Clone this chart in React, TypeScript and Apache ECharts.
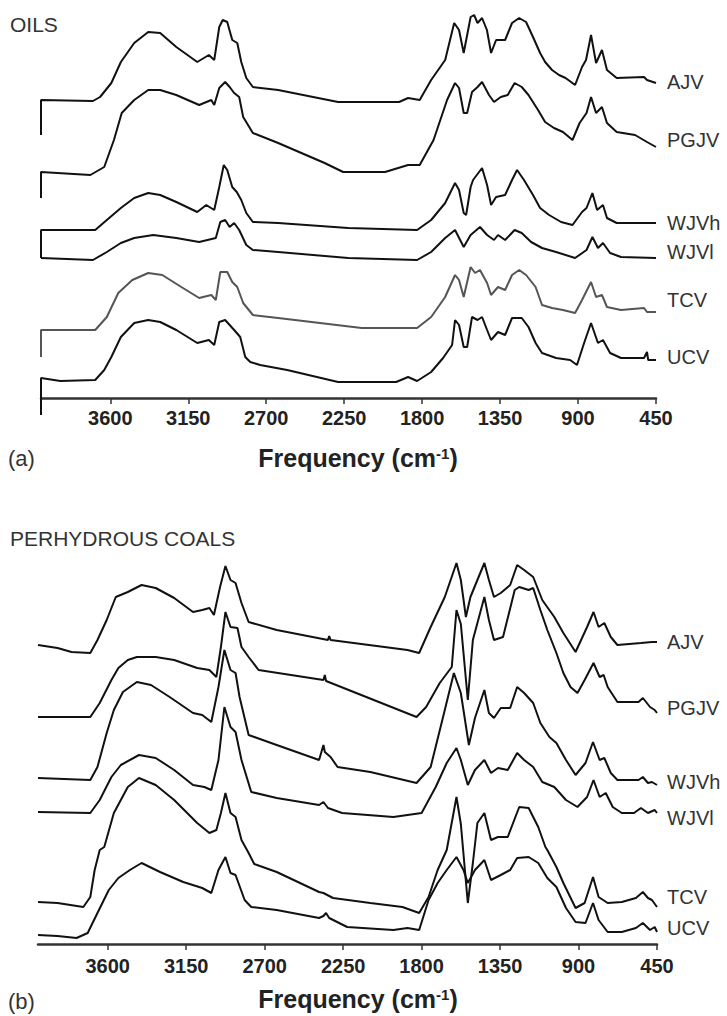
import React, { useEffect, useRef } from "react";
import * as echarts from "echarts";

// Wavenumber ticks (cm-1)
const TICKS = [3600, 3150, 2700, 2250, 1800, 1350, 900, 450];
const NAMES = ["AJV", "PGJV", "WJVh", "WJVl", "TCV", "UCV"];

// ---- (a) OILS : [wavenumber, stacked intensity (a.u.)]
const oilsAJV = [[4000,263],[4000,298],[3700,297],[3659,301],[3594,315],[3539,336],[3462,355],[3381,366],[3312,365],[3219,351],[3098,336],[3031,343],[3000,338],[2971,371],[2951,378],[2925,376],[2896,358],[2867,355],[2844,336],[2815,320],[2777,311],[2631,308],[2285,296],[1933,296],[1881,300],[1814,298],[1748,318],[1667,338],[1615,375],[1587,368],[1560,345],[1520,381],[1500,383],[1480,375],[1454,380],[1426,368],[1402,345],[1373,358],[1321,358],[1281,375],[1240,380],[1200,376],[1160,361],[1119,345],[1090,336],[1050,328],[1010,323],[972,320],[917,313],[877,331],[854,338],[825,363],[796,335],[762,348],[733,328],[677,320],[519,321],[502,318],[450,315]];
const oilsPGJV = [[4000,200],[4000,226],[3715,223],[3635,231],[3579,258],[3534,285],[3462,298],[3381,308],[3312,308],[3219,303],[3087,293],[3017,298],[3000,293],[2971,310],[2937,316],[2911,311],[2885,305],[2856,301],[2833,281],[2777,265],[2631,255],[2363,235],[2256,226],[2014,226],[1881,233],[1814,233],[1734,258],[1656,298],[1610,315],[1587,310],[1560,285],[1540,285],[1512,306],[1480,311],[1454,316],[1414,303],[1385,296],[1346,301],[1306,303],[1266,315],[1225,311],[1186,303],[1131,288],[1090,276],[1039,270],[987,266],[932,258],[891,275],[851,285],[825,301],[796,285],[762,291],[733,275],[677,266],[571,263],[502,256],[450,251]];
const oilsWJVh = [[4000,140],[4000,168],[3687,168],[3620,178],[3539,190],[3462,200],[3381,205],[3312,203],[3219,196],[3098,186],[3046,193],[3000,188],[2971,211],[2945,233],[2925,228],[2896,211],[2870,206],[2844,198],[2815,185],[2777,176],[2631,175],[2227,170],[1829,168],[1748,178],[1667,195],[1610,215],[1587,208],[1560,185],[1546,183],[1520,211],[1506,218],[1454,230],[1425,213],[1402,193],[1373,201],[1321,203],[1281,218],[1252,228],[1212,218],[1160,203],[1119,190],[1067,183],[998,176],[932,173],[877,186],[851,190],[817,205],[790,188],[756,193],[733,180],[677,175],[450,175]];
const oilsWJVl = [[4000,140],[3700,138],[3620,146],[3539,155],[3462,160],[3352,163],[3219,160],[3087,156],[2991,160],[2965,176],[2937,178],[2911,171],[2885,175],[2856,168],[2815,153],[2777,148],[2631,146],[2227,140],[1829,138],[1748,146],[1667,160],[1610,168],[1560,151],[1520,163],[1466,171],[1425,163],[1385,158],[1362,163],[1321,158],[1266,168],[1225,165],[1171,156],[1108,150],[1027,146],[917,140],[851,148],[817,161],[785,150],[756,155],[715,145],[652,141],[450,140]];
const oilsTCV = [[4000,41],[4000,68],[3687,68],[3620,81],[3554,105],[3473,118],[3381,125],[3300,123],[3190,111],[3087,100],[3017,103],[2991,98],[2965,126],[2925,126],[2896,116],[2867,111],[2833,95],[2777,83],[2631,80],[2149,70],[1829,70],[1748,81],[1667,101],[1610,123],[1587,118],[1560,101],[1520,131],[1494,125],[1466,128],[1425,115],[1402,103],[1362,111],[1321,108],[1281,123],[1240,128],[1200,123],[1145,111],[1108,93],[1050,90],[987,88],[917,85],[877,98],[825,116],[796,101],[762,103],[733,91],[652,88],[519,90],[502,86],[450,86]];
const oilsUCV = [[4000,-17],[4000,20],[3888,17],[3687,18],[3635,28],[3594,41],[3539,61],[3462,75],[3381,78],[3312,76],[3219,68],[3098,55],[3031,58],[3000,53],[2971,76],[2937,78],[2911,73],[2885,68],[2850,61],[2821,41],[2792,36],[2735,33],[2579,28],[2285,16],[1950,16],[1881,21],[1829,17],[1748,26],[1679,40],[1627,53],[1610,78],[1587,73],[1560,51],[1540,51],[1512,81],[1480,78],[1454,81],[1425,68],[1402,58],[1362,66],[1321,63],[1281,80],[1225,80],[1186,71],[1145,55],[1108,45],[1027,40],[946,38],[906,33],[865,55],[825,75],[785,55],[756,58],[715,45],[652,40],[519,40],[502,46],[495,38],[450,38]];

// ---- (b) PERHYDROUS COALS
const coalsAJV = [[4000,299],[3888,296],[3808,292],[3700,291],[3659,304],[3606,324],[3554,347],[3485,352],[3406,359],[3325,356],[3219,346],[3111,332],[3058,334],[3017,336],[2991,329],[2956,357],[2925,378],[2896,364],[2867,361],[2833,341],[2792,322],[2631,314],[2337,304],[2330,308],[2322,304],[1881,294],[1814,291],[1748,317],[1667,347],[1600,381],[1575,364],[1546,327],[1520,347],[1480,364],[1440,381],[1414,364],[1385,347],[1346,351],[1292,359],[1252,379],[1212,374],[1160,367],[1108,344],[1039,327],[987,311],[917,292],[851,317],[814,332],[785,317],[752,321],[715,307],[677,299],[542,301],[479,302],[450,302]];
const coalsPGJV = [[4000,227],[3700,227],[3646,241],[3579,264],[3539,276],[3485,284],[3433,287],[3325,287],[3219,284],[3087,276],[3017,274],[2977,267],[2951,297],[2925,332],[2896,317],[2856,316],[2833,297],[2792,287],[2735,274],[2363,264],[2355,269],[2348,263],[1829,227],[1774,237],[1696,261],[1627,277],[1600,334],[1575,320],[1535,244],[1506,304],[1440,347],[1414,324],[1385,304],[1333,307],[1266,354],[1240,357],[1186,354],[1160,356],[1119,334],[1079,314],[1027,291],[987,271],[946,257],[906,251],[865,264],[814,281],[779,267],[756,269],[733,257],[677,242],[556,242],[531,246],[490,237],[463,234],[450,231]];
const coalsWJVh = [[4000,166],[3700,164],[3659,177],[3606,211],[3565,234],[3513,252],[3433,262],[3352,259],[3245,247],[3111,231],[3058,229],[3006,222],[2965,257],[2931,294],[2896,274],[2867,271],[2844,247],[2792,209],[2631,199],[2388,184],[2363,199],[2355,192],[2322,187],[2282,177],[2094,172],[1829,161],[1748,177],[1667,234],[1615,271],[1575,251],[1529,199],[1494,226],[1440,254],[1414,231],[1385,226],[1346,236],[1292,236],[1252,257],[1212,251],[1160,241],[1119,221],[1067,207],[1027,201],[972,184],[917,169],[860,181],[817,202],[779,184],[752,186],[715,171],[677,164],[556,164],[531,167],[502,161],[479,162],[450,159]];
const coalsWJVl = [[4000,132],[3700,131],[3646,144],[3579,167],[3525,179],[3421,189],[3325,186],[3219,174],[3111,159],[3046,157],[3006,154],[2965,184],[2931,237],[2896,217],[2867,212],[2833,184],[2777,152],[2631,146],[2388,139],[2363,142],[2337,136],[2256,131],[1962,127],[1800,131],[1719,157],[1656,181],[1600,196],[1575,184],[1535,159],[1494,174],[1440,184],[1402,171],[1362,176],[1306,174],[1252,191],[1212,184],[1160,177],[1108,162],[1039,157],[972,144],[906,137],[851,147],[814,164],[779,147],[744,151],[704,137],[652,131],[582,131],[542,136],[502,131],[463,134],[450,131]];
const coalsTCV = [[4000,42],[3888,41],[3740,37],[3700,47],[3675,74],[3646,94],[3620,97],[3565,131],[3485,157],[3421,166],[3325,159],[3219,144],[3087,121],[3017,111],[2977,114],[2951,131],[2925,151],[2896,131],[2867,127],[2833,104],[2792,91],[2760,80],[2631,72],[2388,52],[2363,51],[2308,46],[2094,41],[1910,37],[1814,31],[1760,47],[1708,74],[1656,94],[1600,147],[1575,120],[1535,41],[1506,81],[1480,121],[1440,131],[1402,104],[1362,107],[1306,107],[1240,137],[1186,136],[1131,117],[1090,97],[1079,94],[1027,77],[987,61],[917,36],[865,41],[817,67],[785,47],[733,41],[652,42],[571,46],[531,52],[502,46],[479,44],[450,37]];
const coalsUCV = [[4000,9],[3888,8],[3779,6],[3715,11],[3659,31],[3594,54],[3539,66],[3473,74],[3406,81],[3300,72],[3167,62],[3058,56],[3006,51],[2965,74],[2925,87],[2896,71],[2867,69],[2815,44],[2777,37],[2631,34],[2388,26],[2363,28],[2348,31],[2330,26],[2227,17],[1962,14],[1881,16],[1814,14],[1760,44],[1708,61],[1656,74],[1600,87],[1560,74],[1535,61],[1494,74],[1440,84],[1402,64],[1346,69],[1292,74],[1252,86],[1186,87],[1131,81],[1079,66],[1027,57],[972,36],[917,22],[860,21],[817,41],[785,24],[733,12],[652,12],[571,16],[531,21],[490,14],[463,17],[450,12]];

const OILS = [oilsAJV, oilsPGJV, oilsWJVh, oilsWJVl, oilsTCV, oilsUCV];
const COALS = [coalsAJV, coalsPGJV, coalsWJVh, coalsWJVl, coalsTCV, coalsUCV];
const OIL_LABEL_Y = [82, 140, 223, 252, 300, 357];
const COAL_LABEL_Y = [642, 708, 782, 818, 897, 928];

const FONT = "'Liberation Sans', Arial, Helvetica, sans-serif";

export default function App() {
  const ref = useRef<HTMLDivElement>(null);
  useEffect(() => {
    document.body.style.margin = "0";
    if (!ref.current) return;
    const chart = echarts.init(ref.current, null, { renderer: "svg" });
    const mkX = (gridIndex: number, margin: number) => ({
      type: "value",
      gridIndex,
      inverse: true,
      min: 450,
      max: 4000,
      splitLine: { show: false },
      axisLine: { onZero: false, lineStyle: { color: "#333", width: 2.5 } },
      axisTick: { customValues: TICKS, length: 6, lineStyle: { color: "#333", width: 1.5 } },
      axisLabel: {
        customValues: TICKS,
        margin,
        color: "#222",
        fontSize: 20,
        fontWeight: "bold",
        fontFamily: FONT,
        formatter: (v: number) => String(v),
      },
    });
    const mkY = (gridIndex: number, max: number) => ({
      type: "value",
      gridIndex,
      min: 0,
      max,
      show: false,
      splitLine: { show: false },
    });
    const series: any[] = [];
    OILS.forEach((d, i) =>
      series.push({
        type: "line",
        name: "OILS " + NAMES[i],
        xAxisIndex: 0,
        yAxisIndex: 0,
        data: d,
        symbol: "none",
        clip: false,
        silent: true,
        lineStyle: { color: i === 4 ? "#555" : "#111", width: 2 },
      })
    );
    COALS.forEach((d, i) =>
      series.push({
        type: "line",
        name: "COALS " + NAMES[i],
        xAxisIndex: 1,
        yAxisIndex: 1,
        data: d,
        symbol: "none",
        clip: false,
        silent: true,
        lineStyle: { color: "#111", width: 2 },
      })
    );
    const txt = (x: number, y: number, text: string, extra: any = {}) => ({
      type: "text",
      x,
      y,
      style: {
        text,
        fill: "#333",
        fontSize: 20,
        fontFamily: FONT,
        verticalAlign: "middle",
        ...extra,
      },
    });
    const freq = (y: number) => ({
      type: "text",
      x: 358,
      y,
      style: {
        text: "{b|Frequency (cm}{s|-1}{b|)}",
        align: "center",
        verticalAlign: "middle",
        fill: "#222",
        rich: {
          b: { fontSize: 25, fontWeight: "bold", fontFamily: FONT, fill: "#222" },
          s: { fontSize: 15, fontWeight: "bold", fontFamily: FONT, fill: "#222", verticalAlign: "top" },
        },
      },
    });
    const graphic: any[] = [
      txt(10, 24, "OILS", { fontSize: 21 }),
      txt(10, 538, "PERHYDROUS COALS", { fontSize: 21 }),
      txt(8, 458, "(a)", { fontSize: 22 }),
      txt(8, 1001, "(b)", { fontSize: 22 }),
      freq(458),
      freq(999),
    ];
    NAMES.forEach((n, i) => {
      graphic.push(txt(667, OIL_LABEL_Y[i], n));
      graphic.push(txt(667, COAL_LABEL_Y[i], n));
    });
    chart.setOption({
      animation: false,
      backgroundColor: "#fff",
      grid: [
        { left: 41, right: 71, top: 10, bottom: 618 },
        { left: 38, right: 70, top: 500, bottom: 72 },
      ],
      xAxis: [mkX(0, 10), mkX(1, 12)],
      yAxis: [mkY(0, 388), mkY(1, 444)],
      series,
      graphic,
    });
    return () => chart.dispose();
  }, []);
  return <div ref={ref} style={{ width: 727, height: 1016 }} />;
}
